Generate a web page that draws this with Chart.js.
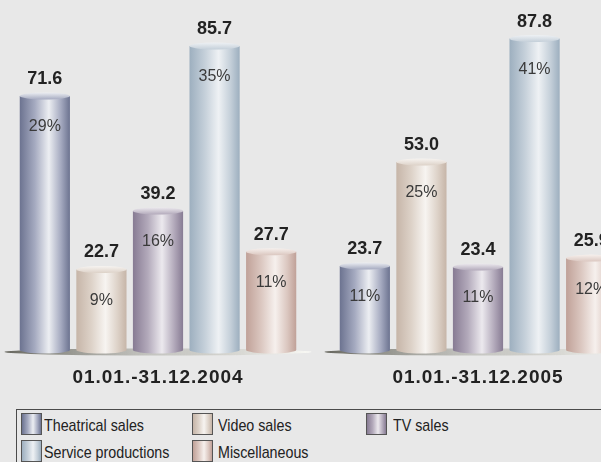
<!DOCTYPE html>
<html>
<head>
<meta charset="utf-8">
<script src="https://cdn.jsdelivr.net/npm/chart.js@4.4.1/dist/chart.umd.min.js"></script>
<style>
  html, body { margin: 0; padding: 0; background: #e8e8e8; width: 601px; height: 462px; overflow: hidden; }
  #wrap { position: absolute; left: -2px; top: 0; width: 640px; height: 400px; }
  #legend { position: absolute; left: 16px; top: 409px; width: 640px; height: 80px; border: 1px solid #4a4a4a; }
  .sw { position: absolute; width: 19px; height: 20px; border: 1px solid #555; }
  .lt { position: absolute; font-family: "Liberation Sans", Arial, sans-serif; font-size: 17px; color: #222;
        line-height: 20px; white-space: nowrap; transform: scaleX(0.84); transform-origin: left center; }
</style>
</head>
<body>
<div id="wrap"><canvas id="myChart"></canvas></div>
<div id="legend"></div>
<script>
// periods on the x axis
const periods = ['01.01.-31.12.2004', '01.01.-31.12.2005'];
const seriesNames = ['Theatrical sales', 'Video sales', 'TV sales', 'Service productions', 'Miscellaneous'];

// revenue values (one array per series, 2004 then 2005)
const theatrical = [71.6, 23.7];
const video = [22.7, 53.0];
const tv = [39.2, 23.4];
const service = [85.7, 87.8];
const misc = [27.7, 25.9];

// share of total in percent
const theatricalPct = [29, 11];
const videoPct = [9, 25];
const tvPct = [16, 11];
const servicePct = [35, 41];
const miscPct = [11, 12];

const values = [theatrical, video, tv, service, misc];
const shares = [theatricalPct, videoPct, tvPct, servicePct, miscPct];

// cylinder tones: dark edge, mid, highlight
const tones = [
  ['#6c7390', '#a5aac0', '#eceef2'],
  ['#c6b5a8', '#ddd2c8', '#f7f4f1'],
  ['#877b93', '#b3aabb', '#ece9ee'],
  ['#9dafbf', '#c4cfd9', '#eef1f4'],
  ['#c0a198', '#dbc7c0', '#f6f0ed']
];

function bodyGrad(ctx, x0, x1, t) {
  const g = ctx.createLinearGradient(x0, 0, x1, 0);
  g.addColorStop(0, t[0]);
  g.addColorStop(0.3, t[1]);
  g.addColorStop(0.58, t[2]);
  g.addColorStop(0.82, t[1]);
  g.addColorStop(1, t[0]);
  return g;
}

function drawCylinder(ctx, cx, top, base, w, t) {
  const rx = w / 2, ry = 3.5;
  ctx.save();
  ctx.fillStyle = bodyGrad(ctx, cx - rx, cx + rx, t);
  ctx.beginPath();
  ctx.moveTo(cx - rx, top);
  ctx.lineTo(cx - rx, base);
  ctx.ellipse(cx, base, rx, ry, 0, Math.PI, 0, true);
  ctx.lineTo(cx + rx, top);
  ctx.closePath();
  ctx.fill();
  // top cap
  const g = ctx.createLinearGradient(0, top - ry, 0, top + ry);
  g.addColorStop(0, t[2]);
  g.addColorStop(1, t[1]);
  ctx.fillStyle = g;
  ctx.beginPath();
  ctx.ellipse(cx, top, rx, ry, 0, 0, Math.PI * 2);
  ctx.fill();
  ctx.restore();
}

const cylinders = {
  id: 'cylinders',
  beforeDraw(chart) {
    // x tick labels are drawn before the datasets, widen their tracking
    chart.ctx.letterSpacing = '1px';
  },
  beforeDatasetsDraw(chart) {
    const ctx = chart.ctx;
    ctx.letterSpacing = '0px';
    const xs = chart.scales.x;
    const base = chart.scales.y.getPixelForValue(0);
    periods.forEach((p, i) => {
      const cx = xs.getPixelForValue(i);
      const half = xs.width / periods.length * 0.48;
      const g = ctx.createLinearGradient(cx - half, 0, cx + half, 0);
      g.addColorStop(0, 'rgba(80,80,70,0.85)');
      g.addColorStop(0.5, 'rgba(150,150,140,0.4)');
      g.addColorStop(1, 'rgba(255,255,250,0.8)');
      ctx.save();
      ctx.fillStyle = g;
      ctx.beginPath();
      ctx.ellipse(cx, base + 2, half, 3.5, 0, 0, Math.PI * 2);
      ctx.fill();
      ctx.restore();
    });
  },
  afterDatasetsDraw(chart) {
    const ctx = chart.ctx;
    chart.data.datasets.forEach((ds, di) => {
      chart.getDatasetMeta(di).data.forEach((bar, i) => {
        drawCylinder(ctx, bar.x, bar.y, bar.base, bar.width, tones[di]);
        ctx.save();
        ctx.textAlign = 'center';
        ctx.fillStyle = '#222';
        ctx.font = 'bold 18px "Liberation Sans", Arial, sans-serif';
        ctx.textBaseline = 'alphabetic';
        ctx.fillText(ds.data[i].toFixed(1), bar.x, bar.y - 12);
        ctx.fillStyle = '#3a3a3a';
        ctx.font = '16px "Liberation Sans", Arial, sans-serif';
        ctx.textBaseline = 'middle';
        ctx.fillText(shares[di][i] + '%', bar.x, bar.y + 31);
        ctx.restore();
      });
    });
  }
};

const ctx = document.getElementById('myChart').getContext('2d');
new Chart(ctx, {
  type: 'bar',
  data: {
    labels: periods,
    datasets: seriesNames.map((name, k) => ({
      label: name,
      data: values[k],
      backgroundColor: 'rgba(0,0,0,0)',
      borderWidth: 0,
      categoryPercentage: 0.884,
      barPercentage: 0.887
    }))
  },
  options: {
    responsive: true,
    maintainAspectRatio: false,
    animation: false,
    layout: { padding: { top: 13, left: 0, right: 0, bottom: 0 } },
    plugins: { legend: { display: false }, tooltip: { enabled: false } },
    scales: {
      x: {
        grid: { display: false },
        border: { display: false },
        ticks: { color: '#222', padding: 8, font: { family: '"Liberation Sans", Arial', size: 19, weight: 'bold' } },
        afterFit: s => { s.height = 50; }
      },
      y: {
        display: false,
        min: 0,
        max: 95
      }
    }
  },
  plugins: [cylinders]
});

// legend
const legend = document.getElementById('legend');
const spots = [[4, 3, 27], [175, 3, 201], [349, 3, 376], [4, 30, 27], [175, 30, 201]];
seriesNames.forEach((name, k) => {
  const [sx, sy, tx] = spots[k];
  const t = tones[k];
  const sw = document.createElement('div');
  sw.className = 'sw';
  sw.style.left = sx + 'px';
  sw.style.top = sy + 'px';
  sw.style.background = `linear-gradient(to right, ${t[0]}, ${t[1]} 30%, ${t[2]} 58%, ${t[1]} 82%, ${t[0]})`;
  legend.appendChild(sw);
  const lt = document.createElement('div');
  lt.className = 'lt';
  lt.style.left = tx + 'px';
  lt.style.top = (sy + 3) + 'px';
  lt.textContent = name;
  legend.appendChild(lt);
});
</script>
</body>
</html>
